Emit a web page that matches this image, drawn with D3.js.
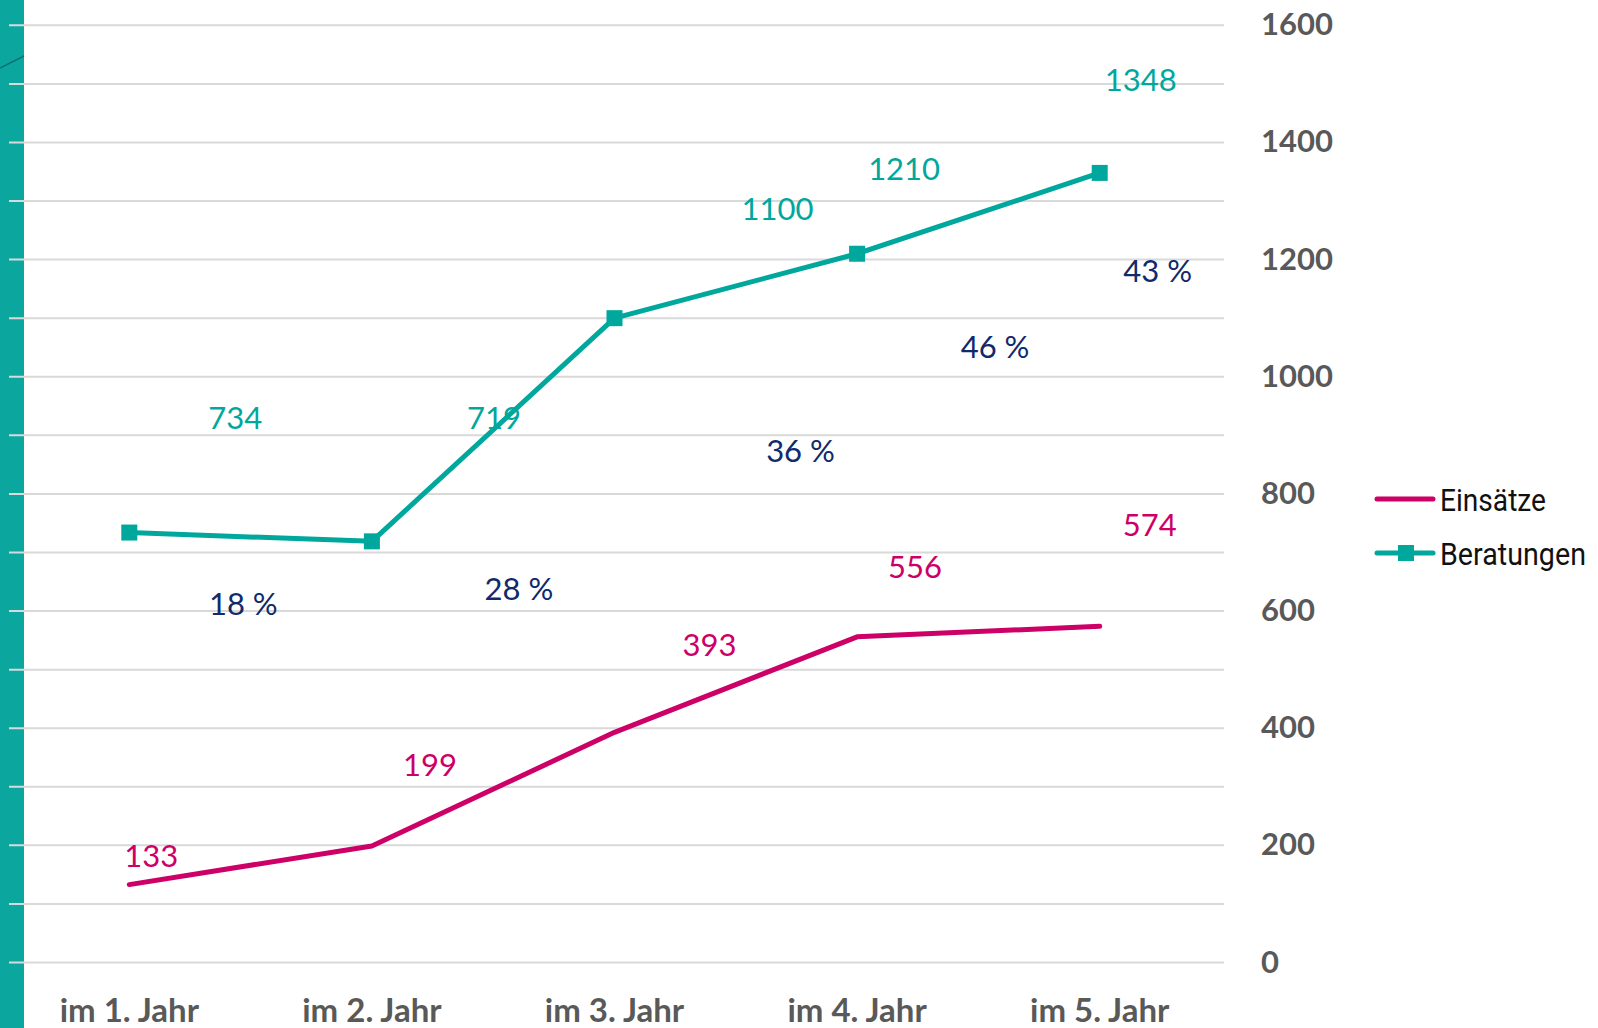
<!DOCTYPE html>
<html>
<head>
<meta charset="utf-8">
<script src="https://cdn.jsdelivr.net/npm/d3@7"></script>
<style>
  html, body { margin: 0; padding: 0; background: #fff; overflow: hidden; }
  svg { display: block; }
</style>
</head>
<body>
<div id="chart"></div>
<script>
// data
const categories = ["im 1. Jahr", "im 2. Jahr", "im 3. Jahr", "im 4. Jahr", "im 5. Jahr"];
const einsaetze = [133, 199, 393, 556, 574];
const beratungen = [734, 719, 1100, 1210, 1348];
const yTicks = [0, 200, 400, 600, 800, 1000, 1200, 1400, 1600];

// label placement (pixel offsets from each point, as hand-placed in the original)
const beratungenLabelOffsets = [[106, -104], [122, -112], [163, -98], [47, -74], [41, -82]];
const einsaetzeLabelOffsets = [[22, -18], [58, -70], [95, -76], [58, -59], [50, -90]];
const shareLabelOffsets = [[114, 82], [147, 59], [186, 144], [138, 104], [58, 109]];

const width = 1598;
const height = 1028;

const teal = "#00a79d";
const magenta = "#cc0066";
const navy = "#102a6b";
const gray = "#595959";

const svg = d3.select("#chart").append("svg")
    .attr("width", width)
    .attr("height", height)
    .attr("viewBox", [0, 0, width, height]);

const x = d3.scaleBand()
    .domain(categories)
    .range([8, 1221]);

const y = d3.scaleLinear()
    .domain([0, 1600])
    .range([962.5, 25.3]);

const cx = (d, i) => x(categories[i]) + x.bandwidth() / 2;

// teal strip on the left
svg.append("rect")
    .attr("x", 0).attr("y", 0)
    .attr("width", 24).attr("height", height)
    .attr("fill", "#0ba79f");

svg.append("path")
    .attr("d", "M0,68 Q12,62 24,56")
    .attr("fill", "none")
    .attr("stroke", "#0d5a63")
    .attr("stroke-width", 1.5)
    .attr("opacity", 0.7);

// gridlines every 100
svg.append("g")
  .selectAll("line")
  .data(d3.range(0, 1601, 100))
  .join("line")
    .attr("x1", 9)
    .attr("x2", 1224)
    .attr("y1", d => y(d))
    .attr("y2", d => y(d))
    .attr("stroke", "#d9d9d9")
    .attr("stroke-width", 2);

// right axis labels
svg.append("g")
  .selectAll("text")
  .data(yTicks)
  .join("text")
    .attr("x", 1261)
    .attr("y", d => y(d) + 10)
    .attr("font-family", "Lato, 'Open Sans', sans-serif")
    .attr("font-weight", "bold")
    .attr("font-size", 31)
    .attr("fill", gray)
    .text(d => d);

// category labels
svg.append("g")
  .selectAll("text")
  .data(categories)
  .join("text")
    .attr("x", d => x(d) + x.bandwidth() / 2)
    .attr("y", 1022)
    .attr("text-anchor", "middle")
    .attr("font-family", "Lato, 'Open Sans', sans-serif")
    .attr("font-weight", "bold")
    .attr("font-size", 33)
    .attr("fill", gray)
    .text(d => d);

const line = d3.line()
    .x(cx)
    .y(d => y(d));

svg.append("path")
    .datum(einsaetze)
    .attr("d", line)
    .attr("fill", "none")
    .attr("stroke", magenta)
    .attr("stroke-width", 5)
    .attr("stroke-linecap", "round")
    .attr("stroke-linejoin", "round");

svg.append("path")
    .datum(beratungen)
    .attr("d", line)
    .attr("fill", "none")
    .attr("stroke", teal)
    .attr("stroke-width", 5)
    .attr("stroke-linejoin", "round");

svg.append("g")
  .selectAll("rect")
  .data(beratungen)
  .join("rect")
    .attr("x", (d, i) => cx(d, i) - 8)
    .attr("y", d => y(d) - 8)
    .attr("width", 16)
    .attr("height", 16)
    .attr("fill", teal);

// data labels
const labelFont = "Lato, 'Open Sans', sans-serif";

function addLabels(values, offsets, color) {
  svg.append("g")
    .selectAll("text")
    .data(values)
    .join("text")
      .attr("x", (d, i) => cx(d, i) + offsets[i][0])
      .attr("y", (d, i) => y(d) + offsets[i][1])
      .attr("text-anchor", "middle")
      .attr("font-family", labelFont)
      .attr("font-size", 31)
      .attr("fill", color)
      .text(d => d);
}

addLabels(beratungen, beratungenLabelOffsets, teal);
addLabels(einsaetze, einsaetzeLabelOffsets, magenta);

// share of Einsätze in Beratungen, placed relative to the Beratungen point
svg.append("g")
  .selectAll("text")
  .data(beratungen)
  .join("text")
    .attr("x", (d, i) => cx(d, i) + shareLabelOffsets[i][0])
    .attr("y", (d, i) => y(d) + shareLabelOffsets[i][1])
    .attr("text-anchor", "middle")
    .attr("font-family", labelFont)
    .attr("font-size", 31)
    .attr("fill", navy)
    .text((d, i) => Math.round(einsaetze[i] / d * 100) + " %");

// legend (condensed face in the original, so squeeze horizontally)
const legend = svg.append("g")
    .attr("font-family", "'Liberation Sans Narrow', 'Roboto', sans-serif")
    .attr("font-size", 32)
    .attr("fill", "#111");

const legendItems = [
  {name: "Einsätze", color: magenta, marker: false, y: 499, w: 106},
  {name: "Beratungen", color: teal, marker: true, y: 553, w: 146}
];

legendItems.forEach(item => {
  legend.append("line")
      .attr("x1", 1377).attr("x2", 1433)
      .attr("y1", item.y).attr("y2", item.y)
      .attr("stroke", item.color)
      .attr("stroke-width", 5)
      .attr("stroke-linecap", "round");
  if (item.marker) {
    legend.append("rect")
        .attr("x", 1398).attr("y", item.y - 8)
        .attr("width", 16).attr("height", 16)
        .attr("fill", item.color);
  }
  const t = legend.append("text")
      .text(item.name);
  const natural = t.node().getComputedTextLength();
  const sx = Math.min(1, item.w / natural);
  t.attr("transform", `translate(1440,${item.y + 12}) scale(${sx},1)`);
});
</script>
</body>
</html>
